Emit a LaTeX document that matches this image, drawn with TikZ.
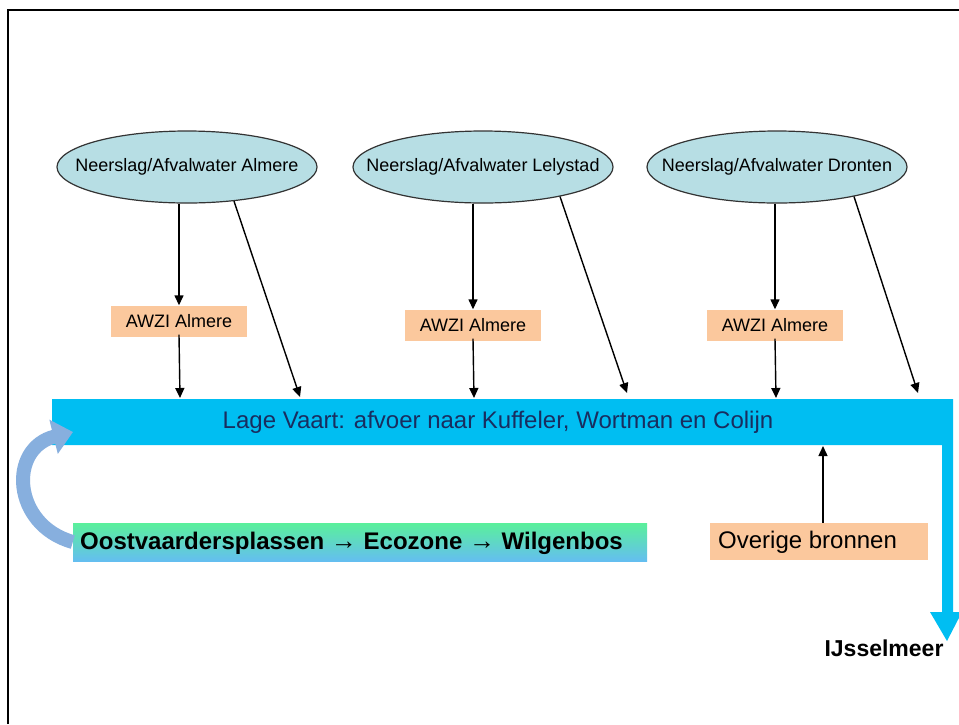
\documentclass[tikz,border=0pt]{standalone}
\usepackage{fontspec}
\setmainfont{Liberation Sans}
\usetikzlibrary{arrows.meta,shapes.geometric,calc}
\definecolor{ellfill}{RGB}{183,222,228}
\definecolor{boxfill}{RGB}{251,200,157}
\definecolor{barblue}{RGB}{0,190,242}
\definecolor{bartext}{RGB}{25,45,95}
\definecolor{curveblue}{RGB}{135,175,222}
\definecolor{greentop}{RGB}{90,240,155}
\definecolor{bluebot}{RGB}{100,190,240}
\tikzset{
  source/.style={ellipse,draw=black!80,line width=1.2pt,fill=ellfill,minimum width=260pt,minimum height=72pt,inner sep=0pt,font=\fontsize{18}{20}\selectfont},
  plant/.style={rectangle,fill=boxfill,minimum width=136pt,minimum height=31pt,inner sep=0pt,font=\fontsize{18}{20}\selectfont},
  arr/.style={line width=1.4pt,-{Triangle[length=10pt,width=9pt]}},
}
\newcommand{\flowarrow}{{\mdseries\fontsize{26}{26}\selectfont →}}
\begin{document}
\begin{tikzpicture}[x=1pt,y=-1pt]
\useasboundingbox (0,0) rectangle (959,724);
\fill[white] (0,0) rectangle (959,724);
% frame (top and left only)
\draw[line width=2.2pt] (8,724) -- (8,10) -- (959,10);

% ellipses
\node[source] (e1) at (187,167) {\makebox[0pt]{Neerslag/Afvalwater Almere}};
\node[source] (e2) at (483,167) {\makebox[0pt]{Neerslag/Afvalwater Lelystad}};
\node[source] (e3) at (777,167) {\makebox[0pt]{Neerslag/Afvalwater Dronten}};

% plants
\node[plant] (a1) at (179,321) {AWZI Almere};
\node[plant] (a2) at (473,325) {AWZI Almere};
\node[plant] (a3) at (775,325) {AWZI Almere};

% main bar
\fill[barblue] (52,399) -- (953,399) -- (953,612) -- (962,612) -- (947,641) -- (930,612) -- (942,612) -- (942,445) -- (52,445) -- cycle;
\node[inner sep=0pt,text=bartext,font=\fontsize{24}{26}\selectfont] (bar) at (498,422) {Lage Vaart: afvoer naar Kuffeler, Wortman en Colijn};

% endpoints on the bar
\coordinate (t1) at (180,398);
\coordinate (d1) at (300,397);
\coordinate (t2) at (474,398);
\coordinate (d2) at (627,393);
\coordinate (t3) at (776,398);
\coordinate (d3) at (918,393);
\coordinate (bb) at (823,446);

% connectors
\draw[arr] (a1.north |- e1.south) -- (a1.north);
\draw[arr] ([yshift=2pt]a1.south) -- (t1);
\draw[arr] (e1.-36) -- (d1);
\draw[arr] (a2.north |- e2.south) -- (a2.north);
\draw[arr] ([yshift=2pt]a2.south) -- (t2);
\draw[arr] (e2.-21) -- (d2);
\draw[arr] (a3.north |- e3.south) -- (a3.north);
\draw[arr] ([yshift=2pt]a3.south) -- (t3);
\draw[arr] (e3.-21) -- (d3);

% other sources
\node[rectangle,fill=boxfill,minimum width=218pt,minimum height=37pt,inner sep=0pt] (ob) at (819,541.5) {};
\node[anchor=west,inner sep=0pt,font=\fontsize{24}{26}\selectfont] at (718,542) {Overige bronnen};
\draw[arr] (ob.north -| bb) -- (bb);

% green box
\node[rectangle,top color=greentop,bottom color=bluebot,minimum width=574pt,minimum height=38pt,inner sep=0pt] (ov) at (360,542) {};
\node[anchor=west,inner sep=0pt,font=\bfseries\fontsize{24}{26}\selectfont] at (80,543) {Oostvaardersplassen \flowarrow{} Ecozone \flowarrow{} Wilgenbos};

% curved return arrow
\coordinate (ct) at (73,432);
\draw[curveblue,line width=14pt,-{Triangle[length=20pt,width=34pt]}] (ov.west) .. controls (12,525) and (8,448) .. (ct);

% outlet label
\node[inner sep=0pt,font=\bfseries\fontsize{23}{25}\selectfont] (ij) at (884,648) {IJsselmeer};
\end{tikzpicture}
\end{document}
